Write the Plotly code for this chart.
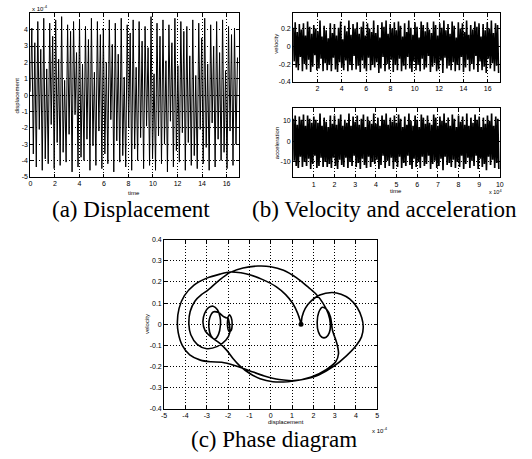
import plotly.graph_objects as go

W, H = 532, 459

# ---------------- data ----------------
# (a) displacement (x 10^-4), successive extremes of the dense oscillation
disp_values = [
    0.2, 4.1, -3.6, 3.2, -4.4, 4.5, -2.1, 2.8, -4.6, 4.7,
    -3.9, 1.6, -4.2, 4.4, -1.8, 3.6, -4.5, 4.6, -2.9, 2.2,
    -4.3, 4.8, -3.5, 0.9, -4.1, 4.3, -2.4, 3.9, -4.7, 4.5,
    -1.2, 2.6, -4.4, 4.6, -3.8, 1.9, -4.0, 4.2, -2.7, 3.4,
    -4.6, 4.7, -3.1, 1.4, -4.3, 4.5, -2.2, 3.7, -4.5, 4.1,
    -3.6, 2.0, -4.2, 4.6, -1.5, 3.1, -4.7, 4.4, -2.8, 2.5,
    -4.1, 4.7, -3.7, 1.1, -4.4, 4.3, -2.0, 3.8, -4.6, 4.6,
    -3.3, 1.7, -4.0, 4.5, -2.6, 3.3, -4.5, 4.2, -1.9, 2.9,
    -4.3, 4.8, -3.9, 1.3, -4.6, 4.4, -2.5, 3.6, -4.2, 4.6,
    -3.0, 2.1, -4.7, 4.3, -1.6, 3.2, -4.4, 4.7, -3.4, 1.8,
    -4.1, 4.5, -2.3, 3.9, -4.6, 4.2, -2.9, 2.4, -4.3, 4.6,
    -3.7, 1.2, -4.5, 4.4, -2.1, 3.5, -4.2, 4.7, -3.2, 1.9,
    -4.6, 4.3, -1.7, 3.0, -4.4, 4.5, -2.7, 2.6, -4.0, 4.6,
    -3.5, 1.5, -4.5, 4.2, -2.2, 3.7, -4.3, 4.1, -3.0, 2.3,
]
disp_dt = 0.1215

# (b) velocity, successive extremes
vel_values = [
    0.21, -0.17, 0.27, -0.24, 0.16, -0.27, 0.25, -0.12, 0.19, -0.28,
    0.26, -0.20, 0.12, -0.26, 0.28, -0.15, 0.22, -0.29, 0.14, -0.23,
    0.24, -0.10, 0.20, -0.27, 0.17, -0.25, 0.29, -0.14, 0.11, -0.28,
    0.23, -0.19, 0.18, -0.27, 0.09, -0.21, 0.26, -0.28, 0.15, -0.13,
    0.25, -0.26, 0.12, -0.29, 0.21, -0.18, 0.28, -0.24, 0.08, -0.27,
    0.23, -0.16, 0.17, -0.28, 0.29, -0.21, 0.13, -0.27, 0.25, -0.11,
    0.20, -0.26, 0.27, -0.22, 0.14, -0.29, 0.22, -0.16, 0.28, -0.25,
    0.12, -0.28, 0.26, -0.13, 0.20, -0.27, 0.16, -0.21, 0.29, -0.24,
    0.15, -0.18, 0.24, -0.30, 0.10, -0.25, 0.27, -0.12, 0.22, -0.28,
    0.29, -0.20, 0.14, -0.26, 0.25, -0.15, 0.20, -0.29, 0.27, -0.21,
    0.18, -0.27, 0.28, -0.14, 0.23, -0.28, 0.11, -0.22, 0.26, -0.26,
    0.16, -0.12, 0.29, -0.25, 0.21, -0.29, 0.13, -0.17, 0.27, -0.27,
    0.22, -0.21, 0.10, -0.28, 0.28, -0.14, 0.24, -0.26, 0.17, -0.24,
    0.27, -0.11, 0.19, -0.29, 0.15, -0.23, 0.28, -0.19, 0.24, -0.28,
    0.12, -0.26, 0.26, -0.16, 0.21, -0.30, 0.29, -0.13, 0.18, -0.25,
    0.25, -0.22, 0.14, -0.27, 0.28, -0.18, 0.23, -0.28, 0.10, -0.21,
    0.27, -0.27, 0.20, -0.12, 0.26, -0.29, 0.16, -0.24, 0.29, -0.15,
    0.13, -0.28, 0.24, -0.20, 0.19, -0.26, 0.28, -0.11, 0.22, -0.29,
    0.26, -0.17, 0.11, -0.27, 0.25, -0.23, 0.18, -0.30, 0.27, -0.14,
    0.20, -0.25, 0.29, -0.19, 0.15, -0.28, 0.26, -0.22, 0.24, -0.30,
]
vel_dt = 0.0849

# (b) acceleration, successive extremes (time axis x 10^4)
acc_values = [
    11.0, -9.5, 12.5, -12.0, 8.0, -13.0, 12.0, -7.5, 10.5, -12.5,
    13.0, -10.0, 7.5, -12.0, 12.5, -8.5, 11.0, -13.5, 9.0, -11.0,
    12.0, -7.0, 10.5, -13.0, 9.0, -12.0, 13.5, -8.0, 7.5, -12.5,
    11.5, -10.0, 9.5, -12.5, 7.0, -11.0, 12.5, -13.0, 8.5, -8.0,
    12.5, -12.0, 8.0, -13.5, 11.0, -9.0, 13.0, -11.5, 7.5, -12.5,
    10.5, -8.0, 9.0, -13.0, 13.5, -10.0, 7.5, -12.0, 12.0, -7.0,
    9.5, -12.5, 12.5, -10.5, 8.0, -13.5, 11.0, -8.5, 13.0, -11.5,
    7.0, -13.0, 12.0, -7.5, 10.0, -12.5, 8.5, -10.0, 13.5, -11.0,
    8.5, -9.0, 11.5, -13.5, 7.5, -11.5, 12.5, -7.0, 10.5, -13.0,
    13.5, -9.5, 8.0, -12.0, 11.5, -8.0, 9.5, -13.5, 12.5, -10.0,
    9.0, -12.5, 13.0, -7.5, 11.0, -13.0, 7.0, -10.5, 12.0, -12.0,
    8.0, -7.0, 13.5, -11.5, 10.0, -13.5, 7.5, -8.5, 12.5, -12.5,
    10.5, -10.0, 7.0, -13.0, 13.0, -7.5, 11.5, -12.0, 8.5, -11.0,
    12.5, -7.0, 9.0, -13.5, 8.0, -11.0, 13.0, -9.5, 11.5, -13.0,
    7.5, -12.0, 12.0, -8.5, 10.0, -14.0, 13.5, -7.5, 9.0, -11.5,
    11.5, -10.5, 7.5, -12.5, 13.0, -9.0, 11.0, -13.0, 7.0, -10.0,
    12.5, -12.5, 9.5, -7.0, 12.0, -13.5, 8.0, -11.0, 13.5, -8.0,
    7.5, -13.0, 11.5, -9.5, 9.0, -12.0, 13.0, -7.0, 10.5, -13.5,
    12.0, -8.5, 7.0, -12.5, 11.5, -11.0, 8.5, -14.0, 12.5, -7.5,
    10.0, -11.5, 13.5, -9.0, 7.5, -13.0, 12.0, -10.5, 11.0, -13.5,
]
acc_dt = 0.05

# (c) phase diagram trajectory (displacement x 10^-4, velocity)
phase_disp = [
    1.42, 1.47, 1.62, 1.90, 2.30, 2.87, 3.30, 3.70, 4.05, 4.27, 4.34, 4.26, 4.02,
    3.55, 2.95, 2.25, 1.50, 0.80, 0.10, -0.50, -1.00, -1.45, -1.76, -2.05,
    -2.40, -2.80, -3.08, -3.18, -3.10, -2.92, -2.70, -2.50, -2.38, -2.36,
    -2.45, -2.62, -2.80, -2.90, -2.86, -2.70, -2.45, -2.20, -2.03, -1.94,
    -1.85, -1.81, -1.86, -1.95, -2.03, -2.00, -1.92, -2.10, -2.50, -3.00,
    -3.45, -3.75, -3.84, -3.78, -3.55, -3.25, -2.99, -2.45, -1.90, -1.30,
    -0.60, 0.00, 0.60, 1.20, 1.70, 2.10, 2.45, 2.70, 2.80, 2.75, 2.60, 2.40,
    2.23, 2.18, 2.25, 2.42, 2.62, 2.80, 2.90, 3.10, 3.18, 3.05, 2.60, 1.90,
    1.10, 0.40, -0.30, -1.00, -1.70, -2.30, -2.80, -3.30, -3.80, -4.15,
    -4.34, -4.38, -4.30, -4.05, -3.60, -3.00, -2.38, -1.90, -1.40, -0.95,
    -0.40, 0.25, 0.70, 1.02, 1.25, 1.37, 1.42,
]
phase_vel = [
    0.0, 0.035, 0.075, 0.11, 0.138, 0.15, 0.142, 0.12, 0.08, 0.03, -0.015, -0.06, -0.10,
    -0.15, -0.20, -0.24, -0.262, -0.272, -0.272, -0.258, -0.232, -0.197, -0.163, -0.125,
    -0.09, -0.06, -0.03, 0.01, 0.052, 0.078, 0.085, 0.068, 0.035, -0.005,
    -0.048, -0.07, -0.055, -0.015, 0.03, 0.058, 0.055, 0.035, 0.03, 0.045,
    0.03, 0.0, -0.03, -0.035, -0.005, 0.03, -0.04, -0.075, -0.105, -0.116,
    -0.095, -0.05, 0.0, 0.06, 0.11, 0.14, 0.158, 0.205, 0.245, 0.266,
    0.275, 0.272, 0.255, 0.22, 0.18, 0.145, 0.10, 0.05, 0.0, -0.04, -0.062, -0.062,
    -0.035, 0.01, 0.055, 0.08, 0.07, 0.035, -0.03, -0.09, -0.14, -0.178, -0.215, -0.25,
    -0.267, -0.262, -0.245, -0.22, -0.195, -0.18, -0.178, -0.17, -0.145, -0.10,
    -0.04, 0.01, 0.075, 0.135, 0.185, 0.218, 0.237, 0.247, 0.243, 0.233,
    0.212, 0.178, 0.14, 0.10, 0.055, 0.02, 0.0,
]

# tick labels
disp_xticks = [0, 2, 4, 6, 8, 10, 12, 14, 16]
disp_yticks = [4, 3, 2, 1, 0, -1, -2, -3, -4, -5]
vel_xticks = [2, 4, 6, 8, 10, 12, 14, 16]
vel_yticks = [0.2, 0, -0.2, -0.4]
vel_yticktext = ["0.2", "0", "-0.2", "-0.4"]
acc_xticks = [1, 2, 3, 4, 5, 6, 7, 8, 9, 10]
acc_yticks = [10, 0, -10]
phase_xticks = [-5, -4, -3, -2, -1, 0, 1, 2, 3, 4, 5]
phase_yticks = [0.4, 0.3, 0.2, 0.1, 0, -0.1, -0.2, -0.3, -0.4]
phase_yticktext = ["0.4", "0.3", "0.2", "0.1", "0", "-0.1", "-0.2", "-0.3", "-0.4"]

# ---------------- figure ----------------
disp_time = [i * disp_dt for i in range(len(disp_values))]
vel_time = [i * vel_dt for i in range(len(vel_values))]
acc_time = [i * acc_dt for i in range(len(acc_values))]


def fx(p):
    return p / W


def fy(p):
    return 1 - p / H


def txt(v):
    return [str(t) for t in v]


fig = go.Figure()
fig.add_trace(go.Scatter(x=disp_time, y=disp_values, mode="lines",
                         line=dict(color="black", width=1.0),
                         xaxis="x", yaxis="y", showlegend=False, hoverinfo="skip"))
fig.add_trace(go.Scatter(x=vel_time, y=vel_values, mode="lines",
                         line=dict(color="black", width=1.6),
                         xaxis="x2", yaxis="y2", showlegend=False, hoverinfo="skip"))
fig.add_trace(go.Scatter(x=acc_time, y=acc_values, mode="lines",
                         line=dict(color="black", width=1.7),
                         xaxis="x3", yaxis="y3", showlegend=False, hoverinfo="skip"))
fig.add_trace(go.Scatter(x=phase_disp, y=phase_vel, mode="lines",
                         line=dict(color="black", width=1.6, shape="spline", smoothing=0.9),
                         xaxis="x4", yaxis="y4", showlegend=False, hoverinfo="skip"))
fig.add_trace(go.Scatter(x=[phase_disp[0]], y=[phase_vel[0]], mode="markers",
                         marker=dict(color="black", size=5),
                         xaxis="x4", yaxis="y4", showlegend=False, hoverinfo="skip"))

base = dict(showline=True, linecolor="black", linewidth=1, mirror="ticks",
            ticks="inside", ticklen=3, tickcolor="black", tickwidth=1,
            tickfont=dict(family="Liberation Sans", size=7, color="black"),
            showgrid=True, gridcolor="black", griddash="1px,2px", gridwidth=1,
            zeroline=False, fixedrange=True)

fig.update_layout(
    width=W, height=H, autosize=False,
    margin=dict(l=0, r=0, t=0, b=0),
    paper_bgcolor="white", plot_bgcolor="white",
    xaxis=dict(base, domain=[fx(27.7), fx(239)], range=[0, 17], anchor="y",
               tickvals=disp_xticks, ticktext=txt(disp_xticks)),
    yaxis=dict(base, domain=[fy(175.5), fy(9.5)], range=[-5, 5], anchor="x",
               tickvals=disp_yticks, ticktext=txt(disp_yticks)),
    xaxis2=dict(base, domain=[fx(294), fx(503.5)], range=[0, 17], anchor="y2",
                tickvals=vel_xticks, ticktext=txt(vel_xticks)),
    yaxis2=dict(base, domain=[fy(79), fy(8.7)], range=[-0.4, 0.38], anchor="x2",
                tickvals=vel_yticks, ticktext=vel_yticktext),
    xaxis3=dict(base, domain=[fx(294), fx(503.5)], range=[0, 10], anchor="y3",
                tickvals=acc_xticks, ticktext=txt(acc_xticks)),
    yaxis3=dict(base, domain=[fy(176), fy(106)], range=[-17.5, 16], anchor="x3",
                tickvals=acc_yticks, ticktext=txt(acc_yticks)),
    xaxis4=dict(base, domain=[fx(163.3), fx(379.3)], range=[-5, 5], anchor="y4",
                tickvals=phase_xticks, ticktext=txt(phase_xticks)),
    yaxis4=dict(base, domain=[fy(411), fy(239.3)], range=[-0.4, 0.4], anchor="x4",
                tickvals=phase_yticks, ticktext=phase_yticktext),
)

small = dict(family="Liberation Sans", size=6, color="black")
tiny = dict(family="Liberation Sans", size=5.5, color="black")
cap = dict(family="Liberation Serif", size=23, color="black")


def note(text, x, y, font, angle=0, xanchor="center"):
    fig.add_annotation(text=text, x=fx(x), y=fy(y), xref="paper", yref="paper",
                       showarrow=False, font=font, textangle=angle,
                       xanchor=xanchor, yanchor="middle")


note("x 10<sup>-4</sup>", 37, 4, small)
note("displacement", 14, 93, small, angle=-90)
note("time", 133, 192, small)
note("velocity", 277, 40, small, angle=-90)
note("acceleration", 278, 141, small, angle=-90)
note("time", 398, 190, small)
note("x 10<sup>4</sup>", 499, 191, tiny)
note("velocity", 146, 325, small, angle=-90)
note("displacement", 287, 424, small)
note("x 10<sup>-4</sup>", 382, 433, small)

note("(a) Displacement", 130, 209, cap)
note("(b) Velocity and acceleration", 250, 209, cap, xanchor="left")
note("(c) Phase diagram", 275, 442, cap)

fig.write_html("out.html")
